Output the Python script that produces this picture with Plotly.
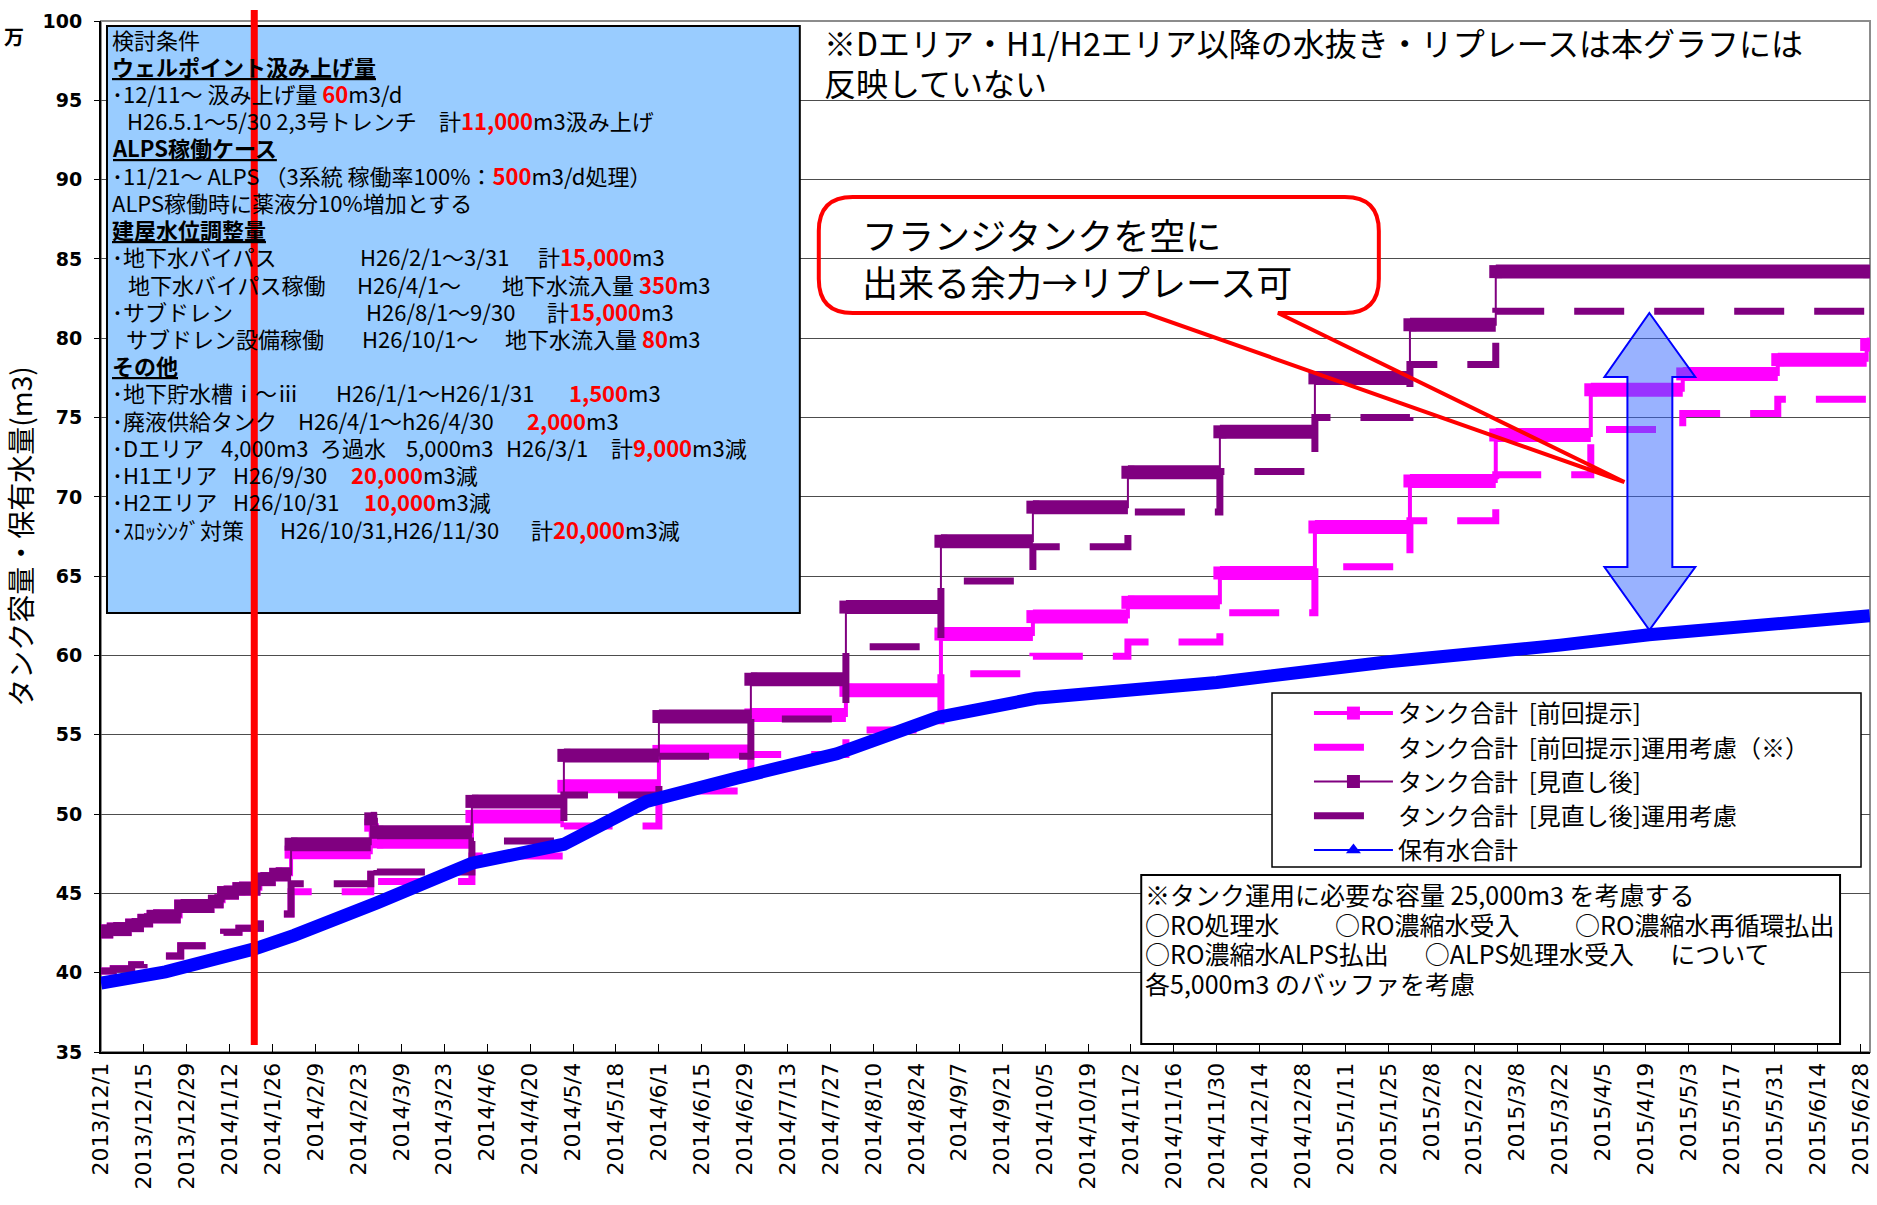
import pandas as pd
import plotly.graph_objects as go

# ---------------- data (万m3) ----------------
tick_labels = ["2013/12/1", "2013/12/15", "2013/12/29", "2014/1/12", "2014/1/26", "2014/2/9",
               "2014/2/23", "2014/3/9", "2014/3/23", "2014/4/6", "2014/4/20", "2014/5/4",
               "2014/5/18", "2014/6/1", "2014/6/15", "2014/6/29", "2014/7/13", "2014/7/27",
               "2014/8/10", "2014/8/24", "2014/9/7", "2014/9/21", "2014/10/5", "2014/10/19",
               "2014/11/2", "2014/11/16", "2014/11/30", "2014/12/14", "2014/12/28", "2015/1/11",
               "2015/1/25", "2015/2/8", "2015/2/22", "2015/3/8", "2015/3/22", "2015/4/5",
               "2015/4/19", "2015/5/3", "2015/5/17", "2015/5/31", "2015/6/14", "2015/6/28"]

# タンク合計 [前回提示] / 運用考慮
prev_dates = ["2013-12-01", "2013-12-05", "2013-12-11", "2013-12-15", "2013-12-18", "2013-12-27",
              "2014-01-07", "2014-01-10", "2014-01-15", "2014-01-22", "2014-01-27", "2014-02-01",
              "2014-02-27", "2014-03-01", "2014-04-01", "2014-05-01", "2014-06-01", "2014-07-01",
              "2014-08-01", "2014-09-01", "2014-10-01", "2014-11-01", "2014-12-01", "2015-01-01",
              "2015-02-01", "2015-03-01", "2015-04-01", "2015-05-01", "2015-06-01", "2015-06-30",
              "2015-07-01"]
tank_prev = [42.6, 42.75, 43.0, 43.3, 43.55, 44.2, 44.5, 45.05, 45.3, 45.9, 46.2, 47.6,
             49.3, 48.25, 49.85, 51.75, 53.95, 56.25, 57.8, 61.35, 62.45, 63.35, 65.2, 68.1,
             71.0, 73.9, 76.75, 77.75, 78.65, 79.6, 79.6]
tank_prev_op = [40.1, 40.25, 40.5, 40.8, 41.05, 41.7, 42.0, 42.55, 42.8, 43.4, 43.7, 45.1,
                46.8, 45.75, 47.35, 49.25, 51.45, 53.75, 55.3, 58.85, 59.95, 60.85, 62.7, 65.6,
                68.5, 71.4, 74.25, 75.25, 76.15, 77.1, 77.1]

# タンク合計 [見直し後] / 運用考慮
rev_dates = ["2013-12-01", "2013-12-05", "2013-12-11", "2013-12-15", "2013-12-18", "2013-12-27",
             "2014-01-07", "2014-01-10", "2014-01-15", "2014-01-22", "2014-01-27", "2014-02-01",
             "2014-02-27", "2014-03-01", "2014-04-01", "2014-05-01", "2014-06-01", "2014-07-01",
             "2014-08-01", "2014-09-01", "2014-10-01", "2014-11-01", "2014-12-01", "2015-01-01",
             "2015-02-01", "2015-03-01", "2015-07-01"]
tank_rev = [42.6, 42.75, 43.0, 43.3, 43.55, 44.2, 44.5, 45.05, 45.3, 45.9, 46.2, 48.1,
            49.7, 48.85, 50.8, 53.7, 56.15, 58.5, 63.05, 67.2, 69.35, 71.55, 74.1, 77.5,
            80.85, 84.2, 84.2]
tank_rev_op = [40.1, 40.25, 40.5, 40.8, 41.05, 41.7, 42.0, 42.55, 42.8, 43.4, 43.7, 45.6,
               47.2, 46.35, 48.3, 51.2, 53.65, 56.0, 60.55, 64.7, 66.85, 69.05, 71.6, 75.0,
               78.35, 81.7, 81.7]

# 保有水合計
hold_dates = ["2013-12-01", "2013-12-15", "2013-12-22", "2014-01-20", "2014-02-02", "2014-03-01",
              "2014-03-15", "2014-04-01", "2014-05-01", "2014-05-28", "2014-06-27", "2014-07-29",
              "2014-08-31", "2014-10-02", "2014-11-30", "2015-01-25", "2015-03-22", "2015-04-20",
              "2015-07-01"]
hold_total = [39.35, 39.75, 40.05, 41.5, 42.35, 44.4, 45.5, 46.9, 48.1, 50.8, 52.3, 53.8,
              56.1, 57.3, 58.3, 59.6, 60.65, 61.3, 62.5]

NB = "\u00a0"
series_names = ["タンク合計" + NB * 2 + "[前回提示]", "タンク合計" + NB * 2 + "[前回提示]運用考慮（※）",
                "タンク合計" + NB * 2 + "[見直し後]", "タンク合計" + NB * 2 + "[見直し後]運用考慮", "保有水合計"]

red_line_date = "2014-01-20"
x_range = ["2013-12-01", "2015-07-01 02:00"]
y_range = [35, 100]

MAGENTA, PURPLE, BLUE, RED = "#FF00FF", "#800080", "#0000FF", "#FF0000"
JP = "Noto Sans CJK JP"
DASH = "50px,30px"

# ---------------- layout helpers (pixel -> paper) ----------------
W, H = 1877, 1205
PL, PT, PR, PB = 101, 21, 1873, 1052


def fx(x):
    return (x - PL) / (PR - PL)


def fy(y):
    return (PB - y) / (PB - PT)


def bar_segments(dates, vals):
    xs, ys = [], []
    for i in range(len(dates) - 1):
        xs += [dates[i], dates[i + 1], None]
        ys += [vals[i], vals[i], None]
    return xs, ys


fig = go.Figure()

# magenta: 前回提示
bx, by = bar_segments(prev_dates, tank_prev)
fig.add_trace(go.Scatter(x=bx, y=by, mode="lines", line=dict(color=MAGENTA, width=14),
                         showlegend=False, legendgroup="g1", hoverinfo="skip"))
fig.add_trace(go.Scatter(x=prev_dates, y=tank_prev, name=series_names[0], legendgroup="g1",
                         mode="lines+markers", line=dict(color=MAGENTA, width=4, shape="hv"),
                         marker=dict(symbol="square", size=13, color=MAGENTA)))
fig.add_trace(go.Scatter(x=prev_dates, y=tank_prev_op, name=series_names[1], legendgroup="g2",
                         mode="lines", line=dict(color=MAGENTA, width=7, shape="hv", dash=DASH)))

# purple: 見直し後
bx, by = bar_segments(rev_dates, tank_rev)
fig.add_trace(go.Scatter(x=bx, y=by, mode="lines", line=dict(color=PURPLE, width=14),
                         showlegend=False, legendgroup="g3", hoverinfo="skip"))
fig.add_trace(go.Scatter(x=rev_dates, y=tank_rev, name=series_names[2], legendgroup="g3",
                         mode="lines+markers", line=dict(color=PURPLE, width=2, shape="hv"),
                         marker=dict(symbol="square", size=13, color=PURPLE)))
fig.add_trace(go.Scatter(x=rev_dates, y=tank_rev_op, name=series_names[3], legendgroup="g4",
                         mode="lines", line=dict(color=PURPLE, width=7, shape="hv", dash=DASH)))

# blue: 保有水合計
fig.add_trace(go.Scatter(x=hold_dates, y=hold_total, mode="lines", line=dict(color=BLUE, width=13),
                         showlegend=False, legendgroup="g5", name=series_names[4]))
fig.add_trace(go.Scatter(x=[None], y=[None], name=series_names[4], legendgroup="g5",
                         mode="lines+markers", line=dict(color=BLUE, width=2),
                         marker=dict(symbol="triangle-up", size=13, color=BLUE)))

# ---------------- shapes ----------------
shapes = []
shapes.append(dict(type="rect", xref="paper", yref="paper", x0=0, x1=1, y0=0, y1=1,
                   line=dict(color="#8c8c8c", width=2), layer="below"))
# info box
shapes.append(dict(type="rect", xref="paper", yref="paper", x0=fx(107), x1=fx(801), y0=fy(613), y1=fy(26),
                   fillcolor="#99CCFF", line=dict(color="black", width=2), layer="above"))
# legend box
shapes.append(dict(type="rect", xref="paper", yref="paper", x0=fx(1274), x1=fx(1864), y0=fy(867), y1=fy(693),
                   fillcolor="white", line=dict(color="black", width=1.5), layer="above"))
# note box
shapes.append(dict(type="rect", xref="paper", yref="paper", x0=fx(1143), x1=fx(1843), y0=fy(1044), y1=fy(875),
                   fillcolor="white", line=dict(color="black", width=2), layer="above"))
# red vertical line
shapes.append(dict(type="line", xref="x", yref="paper", x0=red_line_date, x1=red_line_date,
                   y0=fy(1045), y1=fy(10), line=dict(color=RED, width=7), layer="above"))


def path_from(points):
    return "M " + " L ".join(f"{fx(x):.5f},{fy(y):.5f}" for x, y in points) + " Z"


# callout bubble (rounded rectangle with tail)
cl, cr, ct, cb, r = 820, 1381, 197, 313, 34
callout = (f"M {fx(cl + r):.5f},{fy(ct):.5f} L {fx(cr - r):.5f},{fy(ct):.5f} "
           f"Q {fx(cr):.5f},{fy(ct):.5f} {fx(cr):.5f},{fy(ct + r):.5f} "
           f"L {fx(cr):.5f},{fy(cb - r):.5f} Q {fx(cr):.5f},{fy(cb):.5f} {fx(cr - r):.5f},{fy(cb):.5f} "
           f"L {fx(1280):.5f},{fy(cb):.5f} L {fx(1627):.5f},{fy(482):.5f} L {fx(1147):.5f},{fy(cb):.5f} "
           f"L {fx(cl + r):.5f},{fy(cb):.5f} Q {fx(cl):.5f},{fy(cb):.5f} {fx(cl):.5f},{fy(cb - r):.5f} "
           f"L {fx(cl):.5f},{fy(ct + r):.5f} Q {fx(cl):.5f},{fy(ct):.5f} {fx(cl + r):.5f},{fy(ct):.5f} Z")
shapes.append(dict(type="path", xref="paper", yref="paper", path=callout,
                   line=dict(color=RED, width=4), fillcolor="rgba(0,0,0,0)", layer="above"))

# double-headed arrow
arrow_pts = [(1652, 313), (1698, 377), (1675, 377), (1675, 567), (1698, 567), (1652, 630),
             (1607, 567), (1630, 567), (1630, 377), (1607, 377)]
shapes.append(dict(type="path", xref="paper", yref="paper", path=path_from(arrow_pts),
                   line=dict(color=BLUE, width=2), fillcolor="rgba(51,102,255,0.5)", layer="above"))

# ---------------- annotations ----------------
ann = []


def red(t):
    return f'<span style="color:#FF0000"><b>{t}</b></span>'


def add_text(text, x, y, size, anchor="left", bold=False, color="black"):
    ann.append(dict(text=text, x=fx(x), y=fy(y), xref="paper", yref="paper", showarrow=False,
                    xanchor=anchor, yanchor="middle", borderpad=0,
                    font=dict(family=JP, size=size, color=color, weight="bold" if bold else "normal")))


B = "･"
info_lines = [
    [("検討条件", 113)],
    [("<b><u>ウェルポイント汲み上げ量</u></b>", 113)],
    [(B + "12/11～ 汲み上げ量 " + red("60") + "m3/d", 113)],
    [("H26.5.1～5/30 2,3号トレンチ", 128), ("計" + red("11,000") + "m3汲み上げ", 441)],
    [("<b><u>ALPS稼働ケース</u></b>", 113)],
    [(B + "11/21～ ALPS （3系統 稼働率100%：" + red("500") + "m3/d処理）", 113)],
    [("ALPS稼働時に薬液分10%増加とする", 113)],
    [("<b><u>建屋水位調整量</u></b>", 113)],
    [(B + "地下水バイパス", 113), ("H26/2/1～3/31", 361), ("計" + red("15,000") + "m3", 540)],
    [("地下水バイパス稼働", 129), ("H26/4/1～", 358), ("地下水流入量 " + red("350") + "m3", 504)],
    [(B + "サブドレン", 113), ("H26/8/1～9/30", 367), ("計" + red("15,000") + "m3", 549)],
    [("サブドレン設備稼働", 127), ("H26/10/1～", 363), ("地下水流入量 " + red("80") + "m3", 507)],
    [("<b><u>その他</u></b>", 113)],
    [(B + "地下貯水槽ⅰ～ⅲ", 113), ("H26/1/1～H26/1/31", 337), (red("1,500") + "m3", 571)],
    [(B + "廃液供給タンク", 113), ("H26/4/1～h26/4/30", 299), (red("2,000") + "m3", 529)],
    [(B + "Dエリア", 113), ("4,000m3", 222), ("ろ過水", 321), ("5,000m3", 408), ("H26/3/1", 508),
     ("計" + red("9,000") + "m3減", 613)],
    [(B + "H1エリア", 113), ("H26/9/30", 234), (red("20,000") + "m3減", 352)],
    [(B + "H2エリア", 113), ("H26/10/31", 234), (red("10,000") + "m3減", 365)],
    [(B + "ｽﾛｯｼﾝｸﾞ対策", 113), ("H26/10/31,H26/11/30", 281), ("計" + red("20,000") + "m3減", 533)],
]
for i, parts in enumerate(info_lines):
    for text, x in parts:
        add_text(text, x - 2, 38.5 + i * 27.23, 22)

add_text("※Dエリア・H1/H2エリア以降の水抜き・リプレースは本グラフには", 824, 42, 32)
add_text("反映していない", 824, 82, 32)
add_text("フランジタンクを空に", 862, 234, 36)
add_text("出来る余力→リプレース可", 862, 281, 36)

G2 = "　　" + NB
G3 = "　" + NB * 2
note_lines = ["※タンク運用に必要な容量 25,000m3 を考慮する",
              "○RO処理水" + G2 + "○RO濃縮水受入" + G2 + "○RO濃縮水再循環払出",
              "○RO濃縮水ALPS払出" + G3 + "○ALPS処理水受入" + G3 + "について",
              "各5,000m3 のバッファを考慮"]
for i, t in enumerate(note_lines):
    add_text(t, 1146, 894 + i * 29.5, 25)

add_text("万", 14, 36, 20, anchor="center", bold=True)

fig.update_layout(
    width=W, height=H, autosize=False,
    margin=dict(l=PL, r=W - PR, t=PT, b=H - PB, pad=0),
    paper_bgcolor="white", plot_bgcolor="white",
    shapes=shapes, annotations=ann,
    font=dict(family=JP, color="black"),
    legend=dict(x=fx(1311), y=fy(691), xanchor="left", yanchor="top",
                bgcolor="rgba(0,0,0,0)", borderwidth=0, traceorder="normal",
                itemwidth=79,
                font=dict(family=JP, size=24, color="black")),
    xaxis=dict(type="date", range=x_range, tickmode="array",
               tickvals=pd.to_datetime(tick_labels, format="%Y/%m/%d"), ticktext=tick_labels,
               tickangle=-90, ticks="inside", ticklen=8, tickcolor="black",
               tickfont=dict(family="DejaVu Sans", size=22, color="black"),
               showgrid=False, showline=True, linecolor="black", linewidth=2, zeroline=False),
    yaxis=dict(range=y_range, tick0=35, dtick=5, ticks="outside", ticklen=5, tickcolor="black",
               tickfont=dict(family="DejaVu Sans", size=19, color="black", weight="bold"),
               ticklabelstandoff=8,
               showgrid=True, gridcolor="#4d4d4d", gridwidth=1,
               showline=True, linecolor="black", linewidth=2, zeroline=False,
               title=dict(text="タンク容量・保有水量(m3)", standoff=8,
                          font=dict(family=JP, size=28, color="black"))),
)

fig.write_html("out.html", config={"displayModeBar": False},
               post_script="document.body.style.margin='0px';")
